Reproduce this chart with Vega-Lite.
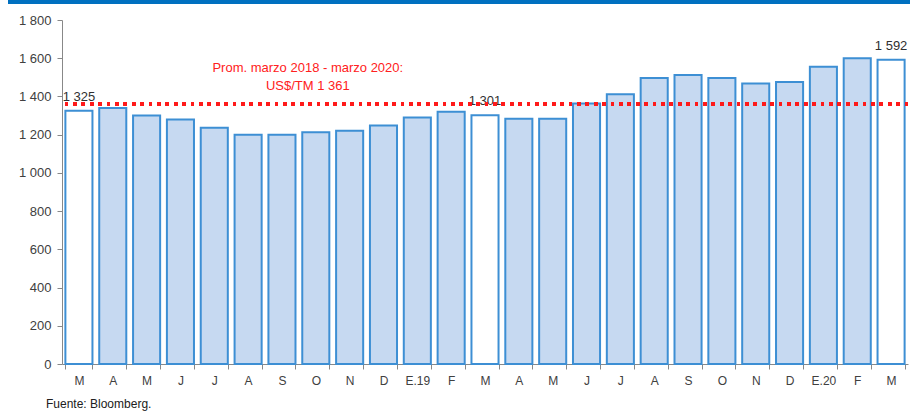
{
  "$schema": "https://vega.github.io/schema/vega-lite/v6.json",
  "width": 846,
  "height": 344,
  "autosize": "none",
  "padding": {"left": 62, "top": 20, "right": 2, "bottom": 48},
  "background": "white",
  "config": {
    "view": {"stroke": null},
    "font": "Liberation Sans",
    "axis": {"labelFont": "Liberation Sans", "labelColor": "#404040", "labelFontSize": 12},
    "axisY": {"labelOverlap": false, "labelFlush": false, "grid": false, "tickSize": 5, "tickColor": "#888888", "domainColor": "#888888", "labelPadding": 6, "title": null, "labelFontSize": 13}
  },
  "title": {
    "text": "Fuente: Bloomberg.",
    "orient": "bottom",
    "anchor": "start",
    "dx": 38,
    "offset": 13,
    "fontSize": 12,
    "fontWeight": "normal",
    "color": "#202020",
    "font": "Liberation Sans"
  },
  "resolve": {"scale": {"x": "independent"}},
  "layer": [
    {
      "data": {
        "values": [
          {"k": "01|M", "v": 1325, "marzo": true, "etiqueta": "1 325"},
          {"k": "02|A", "v": 1340, "marzo": false},
          {"k": "03|M", "v": 1300, "marzo": false},
          {"k": "04|J", "v": 1280, "marzo": false},
          {"k": "05|J", "v": 1236, "marzo": false},
          {"k": "06|A", "v": 1200, "marzo": false},
          {"k": "07|S", "v": 1199, "marzo": false},
          {"k": "08|O", "v": 1213, "marzo": false},
          {"k": "09|N", "v": 1220, "marzo": false},
          {"k": "10|D", "v": 1248, "marzo": false},
          {"k": "11|E.19", "v": 1290, "marzo": false},
          {"k": "12|F", "v": 1320, "marzo": false},
          {"k": "13|M", "v": 1301, "marzo": true, "etiqueta": "1 301"},
          {"k": "14|A", "v": 1283, "marzo": false},
          {"k": "15|M", "v": 1283, "marzo": false},
          {"k": "16|J", "v": 1363, "marzo": false},
          {"k": "17|J", "v": 1412, "marzo": false},
          {"k": "18|A", "v": 1496, "marzo": false},
          {"k": "19|S", "v": 1512, "marzo": false},
          {"k": "20|O", "v": 1496, "marzo": false},
          {"k": "21|N", "v": 1468, "marzo": false},
          {"k": "22|D", "v": 1476, "marzo": false},
          {"k": "23|E.20", "v": 1556, "marzo": false},
          {"k": "24|F", "v": 1600, "marzo": false},
          {"k": "25|M", "v": 1592, "marzo": true, "etiqueta": "1 592"}
        ]
      },
      "encoding": {
        "x": {
          "field": "k",
          "type": "ordinal",
          "sort": null,
          "scale": {"paddingInner": 0.2, "paddingOuter": 0.1},
          "axis": {
            "title": null,
            "labelAngle": 0,
            "labelExpr": "split(datum.label, '|')[1]",
            "tickBand": "extent",
            "tickSize": 5,
            "tickColor": "#888888",
            "domainColor": "#888888",
            "labelPadding": 6,
            "labelFontSize": 12
          }
        }
      },
      "layer": [
        {
          "mark": {"type": "bar", "strokeWidth": 2, "stroke": "#3d8fd4"},
          "encoding": {
            "y": {
              "field": "v",
              "type": "quantitative",
              "scale": {"domain": [0, 1800], "nice": false},
              "axis": {"values": [0, 200, 400, 600, 800, 1000, 1200, 1400, 1600, 1800], "labelExpr": "replace(format(datum.value, ','), ',', ' ')"}
            },
            "fill": {
              "field": "marzo",
              "type": "nominal",
              "scale": {"domain": [true, false], "range": ["#ffffff", "#c6d9f1"]},
              "legend": null
            }
          }
        },
        {
          "transform": [{"filter": "datum.etiqueta"}],
          "mark": {"type": "text", "baseline": "alphabetic", "dy": -10, "fontSize": 13, "color": "#303030"},
          "encoding": {
            "y": {"field": "v", "type": "quantitative", "axis": {"values": [0, 200, 400, 600, 800, 1000, 1200, 1400, 1600, 1800], "labelExpr": "replace(format(datum.value, ','), ',', ' ')"}},
            "text": {"field": "etiqueta"}
          }
        },
        {
          "mark": {"type": "rule", "color": "#ff1a1a", "strokeWidth": 3, "strokeDash": [3, 5.4], "strokeCap": "butt"},
          "encoding": {"y": {"datum": 1361, "axis": {"values": [0, 200, 400, 600, 800, 1000, 1200, 1400, 1600, 1800], "labelExpr": "replace(format(datum.value, ','), ',', ' ')"}}, "x": null}
        },
        {
          "data": {"values": [{"t": "Prom. marzo 2018 - marzo 2020:\nUS$/TM 1 361"}]},
          "mark": {"type": "text", "color": "#ff2020", "fontSize": 13, "lineBreak": "\n", "lineHeight": 18, "baseline": "alphabetic", "dx": -8},
          "encoding": {
            "x": {"datum": "08|O"},
            "y": {"datum": 1530, "axis": {"values": [0, 200, 400, 600, 800, 1000, 1200, 1400, 1600, 1800], "labelExpr": "replace(format(datum.value, ','), ',', ' ')"}},
            "text": {"field": "t"}
          }
        }
      ]
    },
    {
      "data": {"values": [{"a": 0, "b": 1}]},
      "mark": {"type": "rect", "color": "#0070c0", "clip": false},
      "encoding": {
        "x": {"field": "a", "type": "quantitative", "scale": {"domain": [0, 1], "range": [-54, 848]}, "axis": null},
        "x2": {"field": "b"},
        "y": {"datum": 1905, "axis": {"values": [0, 200, 400, 600, 800, 1000, 1200, 1400, 1600, 1800], "labelExpr": "replace(format(datum.value, ','), ',', ' ')"}},
        "y2": {"datum": 1884}
      }
    }
  ]
}
